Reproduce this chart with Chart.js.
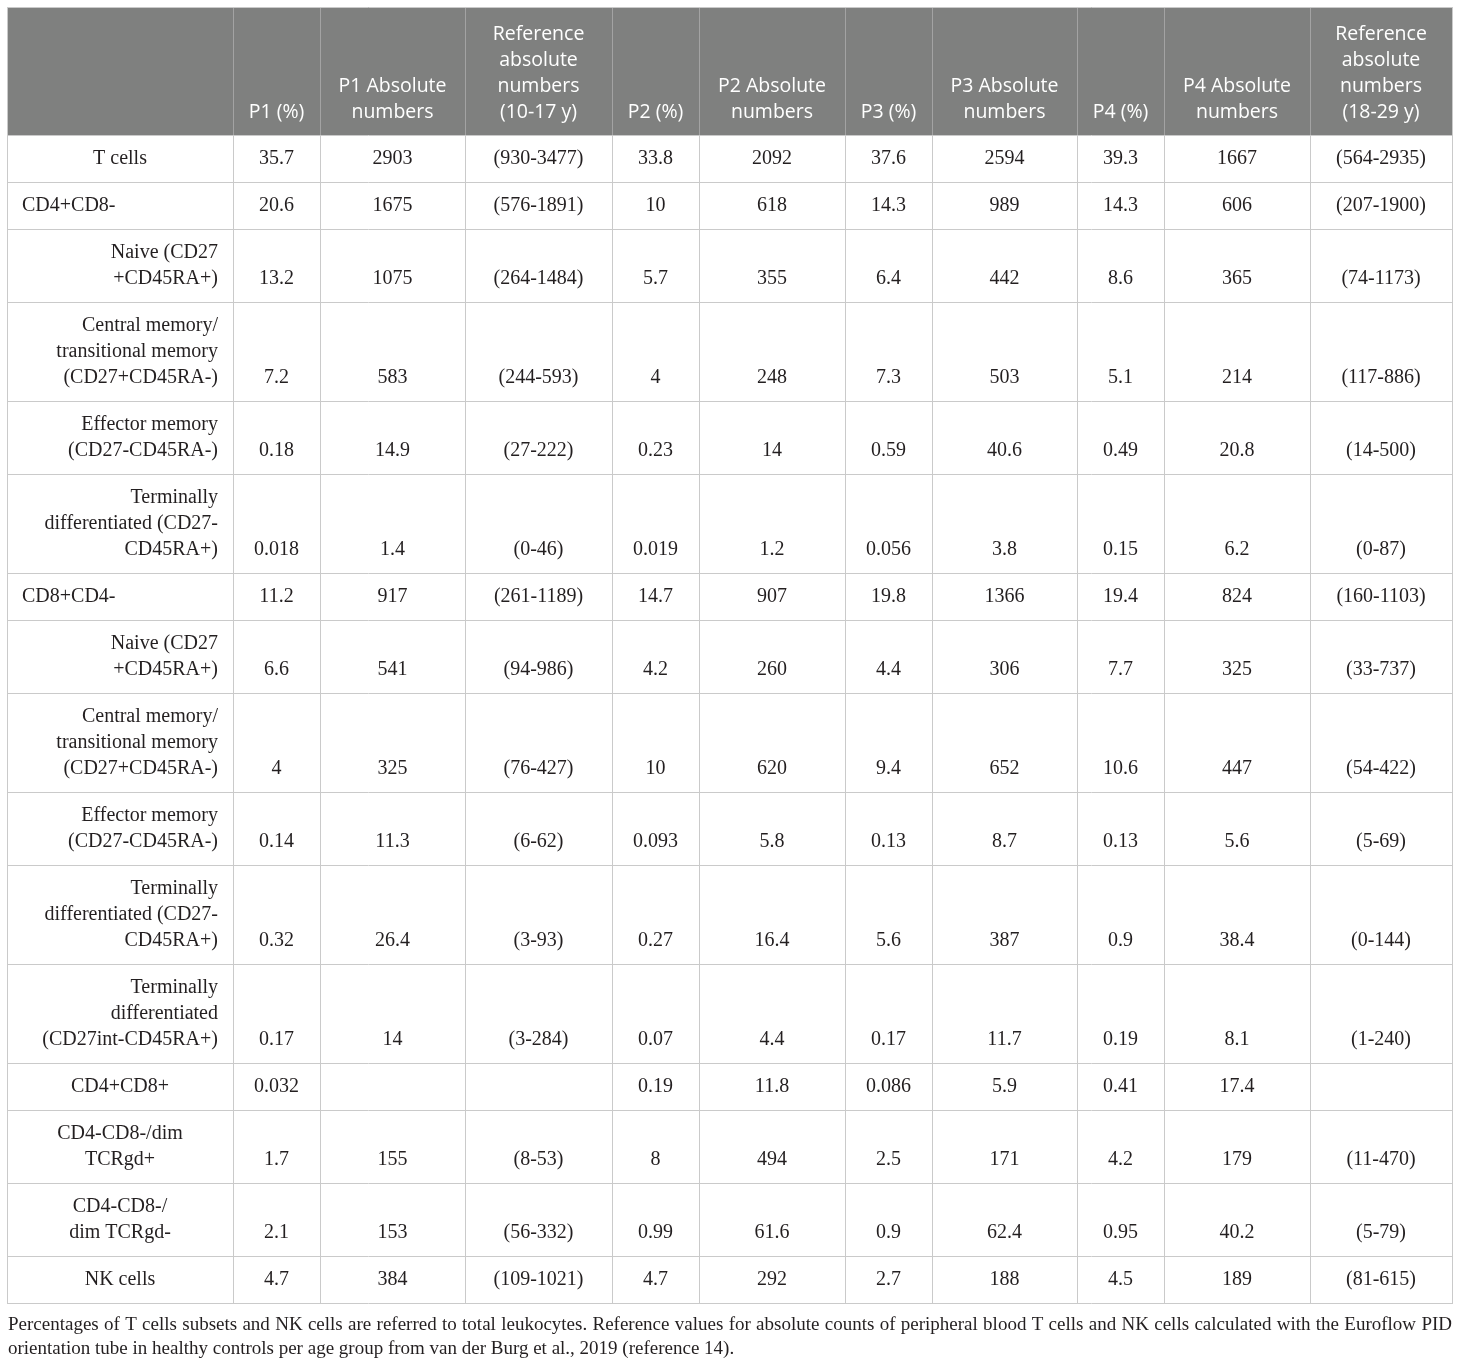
<!DOCTYPE html>
<html>
<head>
<meta charset="utf-8">
<title>T cell and NK cell subsets</title>
<script src="https://cdn.jsdelivr.net/npm/chart.js@4.4.1/dist/chart.umd.min.js"></script>
<style>
    html, body { margin: 0; padding: 0; background: #ffffff; }
    #wrap { width: 1460px; height: 1366px; position: relative; }
</style>
</head>
<body>
<div id="wrap"><canvas id="cellTable"></canvas></div>
<script>
// Column headers (line breaks as in the picture)
const headers = [
    [''],
    ['P1 (%)'],
    ['P1 Absolute', 'numbers'],
    ['Reference', 'absolute', 'numbers', '(10-17 y)'],
    ['P2 (%)'],
    ['P2 Absolute', 'numbers'],
    ['P3 (%)'],
    ['P3 Absolute', 'numbers'],
    ['P4 (%)'],
    ['P4 Absolute', 'numbers'],
    ['Reference', 'absolute', 'numbers', '(18-29 y)']
];

// Row categories
const rowLabels = [
    ['T cells'],
    ['CD4+CD8-'],
    ['Naive (CD27', '+CD45RA+)'],
    ['Central memory/', 'transitional memory', '(CD27+CD45RA-)'],
    ['Effector memory', '(CD27-CD45RA-)'],
    ['Terminally', 'differentiated (CD27-', 'CD45RA+)'],
    ['CD8+CD4-'],
    ['Naive (CD27', '+CD45RA+)'],
    ['Central memory/', 'transitional memory', '(CD27+CD45RA-)'],
    ['Effector memory', '(CD27-CD45RA-)'],
    ['Terminally', 'differentiated (CD27-', 'CD45RA+)'],
    ['Terminally', 'differentiated', '(CD27int-CD45RA+)'],
    ['CD4+CD8+'],
    ['CD4-CD8-/dim', 'TCRgd+'],
    ['CD4-CD8-/', 'dim TCRgd-'],
    ['NK cells']
];
const labelAlign = ['center', 'left', 'right', 'right', 'right', 'right', 'left',
    'right', 'right', 'right', 'right', 'right', 'center', 'center', 'center', 'center'];

// Series values
const p1Pct = [35.7, 20.6, 13.2, 7.2, 0.18, 0.018, 11.2, 6.6, 4, 0.14, 0.32, 0.17, 0.032, 1.7, 2.1, 4.7];
const p1Abs = [2903, 1675, 1075, 583, 14.9, 1.4, 917, 541, 325, 11.3, 26.4, 14, null, 155, 153, 384];
const ref1017 = ['(930-3477)', '(576-1891)', '(264-1484)', '(244-593)', '(27-222)', '(0-46)', '(261-1189)',
    '(94-986)', '(76-427)', '(6-62)', '(3-93)', '(3-284)', '', '(8-53)', '(56-332)', '(109-1021)'];
const p2Pct = [33.8, 10, 5.7, 4, 0.23, 0.019, 14.7, 4.2, 10, 0.093, 0.27, 0.07, 0.19, 8, 0.99, 4.7];
const p2Abs = [2092, 618, 355, 248, 14, 1.2, 907, 260, 620, 5.8, 16.4, 4.4, 11.8, 494, 61.6, 292];
const p3Pct = [37.6, 14.3, 6.4, 7.3, 0.59, 0.056, 19.8, 4.4, 9.4, 0.13, 5.6, 0.17, 0.086, 2.5, 0.9, 2.7];
const p3Abs = [2594, 989, 442, 503, 40.6, 3.8, 1366, 306, 652, 8.7, 387, 11.7, 5.9, 171, 62.4, 188];
const p4Pct = [39.3, 14.3, 8.6, 5.1, 0.49, 0.15, 19.4, 7.7, 10.6, 0.13, 0.9, 0.19, 0.41, 4.2, 0.95, 4.5];
const p4Abs = [1667, 606, 365, 214, 20.8, 6.2, 824, 325, 447, 5.6, 38.4, 8.1, 17.4, 179, 40.2, 189];
const ref1829 = ['(564-2935)', '(207-1900)', '(74-1173)', '(117-886)', '(14-500)', '(0-87)', '(160-1103)',
    '(33-737)', '(54-422)', '(5-69)', '(0-144)', '(1-240)', '', '(11-470)', '(5-79)', '(81-615)'];

const footnote = [
    'Percentages of T cells subsets and NK cells are referred to total leukocytes. Reference values for absolute counts of peripheral blood T cells and NK cells calculated with the Euroflow PID',
    'orientation tube in healthy controls per age group from van der Burg et al., 2019 (reference 14).'
];

const valueColumns = [p1Pct, p1Abs, ref1017, p2Pct, p2Abs, p3Pct, p3Abs, p4Pct, p4Abs, ref1829];

// Layout (in scale units = page pixels)
const colEdges = [7, 233, 320, 465, 612, 699, 845, 932, 1077, 1164, 1310, 1452];
const tableTop = 7;
const headerHeight = 128;
const lineHeight = 26;
const cellPad = 21;
const bottomGap = 23;

const headerFont = '19.5px "Open Sans", sans-serif';
const bodyFont = '20px "Liberation Serif", "DejaVu Serif", serif';
const noteFont = '19px "Liberation Serif", "DejaVu Serif", serif';

function fmt(v) {
    if (v === null || v === undefined) return '';
    return String(v);
}

// Draws the table through the chart's x / y scales
const tablePlugin = {
    id: 'tablePlugin',
    afterDraw(chart) {
        const ctx = chart.ctx;
        const xs = chart.scales.x;
        const ys = chart.scales.y;
        const px = (v) => Math.round(xs.getPixelForValue(v));
        const py = (v) => Math.round(ys.getPixelForValue(v));

        const left = colEdges[0];
        const right = colEdges[colEdges.length - 1];
        const headerBottom = tableTop + headerHeight;

        // row boundaries from label line counts
        const rowEdges = [headerBottom];
        rowLabels.forEach((lines) => {
            rowEdges.push(rowEdges[rowEdges.length - 1] + cellPad + lineHeight * lines.length);
        });
        const tableBottom = rowEdges[rowEdges.length - 1];

        ctx.save();

        // header background
        ctx.fillStyle = '#7f807f';
        ctx.fillRect(px(left), py(tableTop), px(right) - px(left), py(headerBottom) - py(tableTop));

        // header separators
        ctx.strokeStyle = '#a3a3a3';
        ctx.lineWidth = 1;
        for (let i = 1; i < colEdges.length - 1; i++) {
            ctx.beginPath();
            ctx.moveTo(px(colEdges[i]) + 0.5, py(tableTop));
            ctx.lineTo(px(colEdges[i]) + 0.5, py(headerBottom));
            ctx.stroke();
        }

        // body grid
        ctx.strokeStyle = '#cacaca';
        rowEdges.forEach((r) => {
            ctx.beginPath();
            ctx.moveTo(px(left), py(r) + 0.5);
            ctx.lineTo(px(right) + 1, py(r) + 0.5);
            ctx.stroke();
        });
        colEdges.forEach((c, i) => {
            const top = (i === 0 || i === colEdges.length - 1) ? tableTop : headerBottom;
            ctx.beginPath();
            ctx.moveTo(px(c) + 0.5, py(top));
            ctx.lineTo(px(c) + 0.5, py(tableBottom));
            ctx.stroke();
        });
        ctx.beginPath();
        ctx.moveTo(px(left), py(tableTop) + 0.5);
        ctx.lineTo(px(right) + 1, py(tableTop) + 0.5);
        ctx.stroke();

        // header text
        ctx.fillStyle = '#ffffff';
        ctx.font = headerFont;
        ctx.textAlign = 'center';
        ctx.textBaseline = 'middle';
        headers.forEach((lines, c) => {
            const cx = (px(colEdges[c]) + px(colEdges[c + 1])) / 2;
            const last = headerBottom - bottomGap;
            lines.forEach((t, k) => {
                const yy = last - (lines.length - 1 - k) * lineHeight;
                ctx.fillText(t, cx, py(yy));
            });
        });

        // body text
        ctx.fillStyle = '#231f20';
        ctx.font = bodyFont;
        rowLabels.forEach((lines, r) => {
            const last = rowEdges[r + 1] - bottomGap;
            const align = labelAlign[r];
            let tx;
            if (align === 'left') tx = px(colEdges[0] + 15);
            else if (align === 'right') tx = px(colEdges[1] - 15);
            else tx = (px(colEdges[0]) + px(colEdges[1])) / 2;
            ctx.textAlign = align;
            lines.forEach((t, k) => {
                const yy = last - (lines.length - 1 - k) * lineHeight;
                ctx.fillText(t, tx, py(yy));
            });
            ctx.textAlign = 'center';
            valueColumns.forEach((col, c) => {
                const cx = (px(colEdges[c + 1]) + px(colEdges[c + 2])) / 2;
                ctx.fillText(fmt(col[r]), cx, py(last));
            });
        });

        // footnote, first line justified to table width
        ctx.font = noteFont;
        ctx.textAlign = 'left';
        ctx.textBaseline = 'alphabetic';
        const words = footnote[0].split(' ');
        const wordsWidth = words.reduce((s, w) => s + ctx.measureText(w).width, 0);
        const gap = (px(right) - px(left + 1) - wordsWidth) / (words.length - 1);
        let wx = px(left + 1);
        words.forEach((w) => {
            ctx.fillText(w, wx, py(tableBottom + 27));
            wx += ctx.measureText(w).width + gap;
        });
        ctx.fillText(footnote[1], px(left + 1), py(tableBottom + 51));

        ctx.restore();
    }
};

const ctx = document.getElementById('cellTable').getContext('2d');

new Chart(ctx, {
    type: 'scatter',
    data: {
        datasets: [{
            label: 'cells',
            data: [],
            pointRadius: 0
        }]
    },
    options: {
        responsive: true,
        maintainAspectRatio: false,
        animation: false,
        events: [],
        layout: { padding: 0 },
        plugins: {
            legend: { display: false },
            tooltip: { enabled: false }
        },
        scales: {
            x: { type: 'linear', min: 0, max: 1460, display: false },
            y: { type: 'linear', min: 0, max: 1366, reverse: true, display: false }
        }
    },
    plugins: [tablePlugin]
});
</script>
</body>
</html>
